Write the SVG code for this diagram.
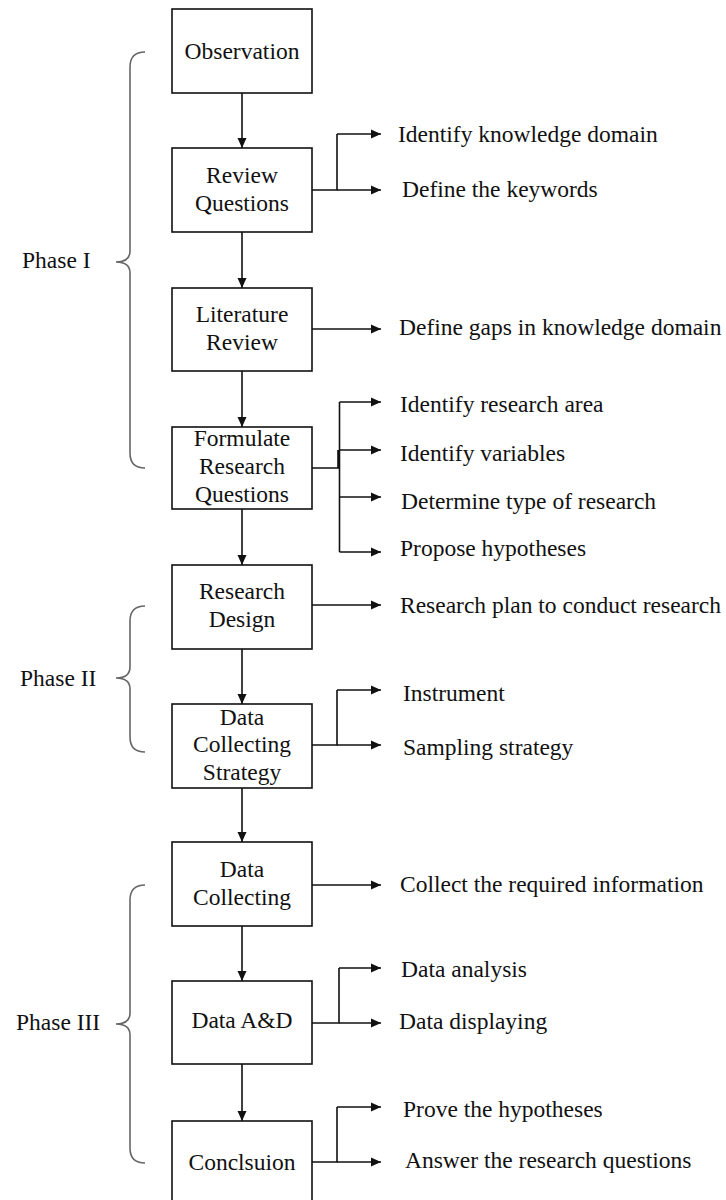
<svg xmlns="http://www.w3.org/2000/svg" width="726" height="1200" viewBox="0 0 726 1200">
  <style>
    .box { fill: #fff; stroke: #111; stroke-width: 1.6; }
    .lbl { font-family: "Liberation Serif", "Times New Roman", serif; font-size: 23.5px; fill: #111; }
    .mid { text-anchor: middle; }
    .con { fill: none; stroke: #111; stroke-width: 1.6; }
    .arr { marker-end: url(#head); }
    .brace { fill: none; stroke: #666; stroke-width: 1.6; }
  </style>
  <defs>
    <marker id="head" markerUnits="userSpaceOnUse" markerWidth="11" markerHeight="10" refX="10" refY="5" orient="auto">
      <path d="M0,0.5 L10,5 L0,9.5 z" fill="#111"/>
    </marker>
  </defs>
  <rect width="726" height="1200" fill="#fff"/>

  <!-- phase braces -->
  <g id="phase1">
    <path class="brace" d="M145,52 Q130,52 130,67 V251 Q130,262 116,262 Q130,262 130,273 V453 Q130,468 145,468"/>
    <text class="lbl" x="22" y="268">Phase I</text>
  </g>
  <g id="phase2">
    <path class="brace" d="M145,606 Q130,606 130,621 V667 Q130,678 116,678 Q130,678 130,689 V737 Q130,752 145,752"/>
    <text class="lbl" x="20" y="686">Phase II</text>
  </g>
  <g id="phase3">
    <path class="brace" d="M145,885 Q130,885 130,900 V1013 Q130,1024 116,1024 Q130,1024 130,1035 V1148 Q130,1163 145,1163"/>
    <text class="lbl" x="16" y="1030">Phase III</text>
  </g>

  <!-- connectors -->
  <g id="connectors">
    <!-- main flow -->
    <line class="con arr" x1="242" y1="93" x2="242" y2="148"/>
    <line class="con arr" x1="242" y1="232" x2="242" y2="288"/>
    <line class="con arr" x1="242" y1="371" x2="242" y2="427"/>
    <line class="con arr" x1="242" y1="509" x2="242" y2="565"/>
    <line class="con arr" x1="242" y1="649" x2="242" y2="704"/>
    <line class="con arr" x1="242" y1="788" x2="242" y2="842"/>
    <line class="con arr" x1="242" y1="926" x2="242" y2="981"/>
    <line class="con arr" x1="242" y1="1064" x2="242" y2="1121"/>

    <!-- Review Questions outputs -->
    <path class="con" d="M312,190 H337 V134"/>
    <line class="con arr" x1="337" y1="134" x2="381" y2="134"/>
    <line class="con arr" x1="337" y1="190" x2="381" y2="190"/>

    <!-- Literature Review output -->
    <line class="con arr" x1="312" y1="329" x2="381" y2="329"/>

    <!-- Formulate Research Questions outputs -->
    <path class="con" d="M312,468 H338 V450 M339.5,402 V552"/>
    <line class="con arr" x1="339.5" y1="402" x2="381" y2="402"/>
    <line class="con arr" x1="339.5" y1="450" x2="381" y2="450"/>
    <line class="con arr" x1="339.5" y1="497" x2="381" y2="497"/>
    <line class="con arr" x1="339.5" y1="552" x2="381" y2="552"/>

    <!-- Research Design output -->
    <line class="con arr" x1="312" y1="605" x2="381" y2="605"/>

    <!-- Data Collecting Strategy outputs -->
    <path class="con" d="M312,745 H337 V690"/>
    <line class="con arr" x1="337" y1="690" x2="381" y2="690"/>
    <line class="con arr" x1="337" y1="745" x2="381" y2="745"/>

    <!-- Data Collecting output -->
    <line class="con arr" x1="312" y1="885" x2="381" y2="885"/>

    <!-- Data A&D outputs -->
    <path class="con" d="M312,1023 H339 V968"/>
    <line class="con arr" x1="339" y1="968" x2="381" y2="968"/>
    <line class="con arr" x1="339" y1="1023" x2="381" y2="1023"/>

    <!-- Conclusion outputs -->
    <path class="con" d="M312,1162 H337 V1107"/>
    <line class="con arr" x1="337" y1="1107" x2="381" y2="1107"/>
    <line class="con arr" x1="337" y1="1162" x2="381" y2="1162"/>
  </g>

  <!-- process boxes -->
  <g id="observation">
    <rect class="box" x="172" y="9" width="140" height="84"/>
    <text class="lbl mid" x="242" y="59">Observation</text>
  </g>
  <g id="review-questions">
    <rect class="box" x="172" y="148" width="140" height="84"/>
    <text class="lbl mid" x="242" y="183">Review</text>
    <text class="lbl mid" x="242" y="211">Questions</text>
  </g>
  <g id="literature-review">
    <rect class="box" x="172" y="288" width="140" height="83"/>
    <text class="lbl mid" x="242" y="322">Literature</text>
    <text class="lbl mid" x="242" y="350">Review</text>
  </g>
  <g id="formulate-research-questions">
    <rect class="box" x="172" y="427" width="140" height="82"/>
    <text class="lbl mid" x="242" y="446">Formulate</text>
    <text class="lbl mid" x="242" y="474">Research</text>
    <text class="lbl mid" x="242" y="502">Questions</text>
  </g>
  <g id="research-design">
    <rect class="box" x="172" y="565" width="140" height="84"/>
    <text class="lbl mid" x="242" y="599">Research</text>
    <text class="lbl mid" x="242" y="627">Design</text>
  </g>
  <g id="data-collecting-strategy">
    <rect class="box" x="172" y="704" width="140" height="84"/>
    <text class="lbl mid" x="242" y="725">Data</text>
    <text class="lbl mid" x="242" y="752">Collecting</text>
    <text class="lbl mid" x="242" y="780">Strategy</text>
  </g>
  <g id="data-collecting">
    <rect class="box" x="172" y="842" width="140" height="84"/>
    <text class="lbl mid" x="242" y="877">Data</text>
    <text class="lbl mid" x="242" y="905">Collecting</text>
  </g>
  <g id="data-ad">
    <rect class="box" x="172" y="981" width="140" height="83"/>
    <text class="lbl mid" x="242" y="1028">Data A&amp;D</text>
  </g>
  <g id="conclusion">
    <rect class="box" x="172" y="1121" width="140" height="84"/>
    <text class="lbl mid" x="242" y="1170">Conclsuion</text>
  </g>

  <!-- output labels -->
  <g id="outputs">
    <text class="lbl" x="398" y="142">Identify knowledge domain</text>
    <text class="lbl" x="402" y="197">Define the keywords</text>
    <text class="lbl" x="399" y="335">Define gaps in knowledge domain</text>
    <text class="lbl" x="400" y="412">Identify research area</text>
    <text class="lbl" x="400" y="461">Identify variables</text>
    <text class="lbl" x="401" y="509">Determine type of research</text>
    <text class="lbl" x="400" y="556">Propose hypotheses</text>
    <text class="lbl" x="400" y="613">Research plan to conduct research</text>
    <text class="lbl" x="403" y="701">Instrument</text>
    <text class="lbl" x="403" y="755">Sampling strategy</text>
    <text class="lbl" x="400" y="892">Collect the required information</text>
    <text class="lbl" x="401" y="977">Data analysis</text>
    <text class="lbl" x="399" y="1029">Data displaying</text>
    <text class="lbl" x="403" y="1117">Prove the hypotheses</text>
    <text class="lbl" x="405" y="1168">Answer the research questions</text>
  </g>
</svg>
